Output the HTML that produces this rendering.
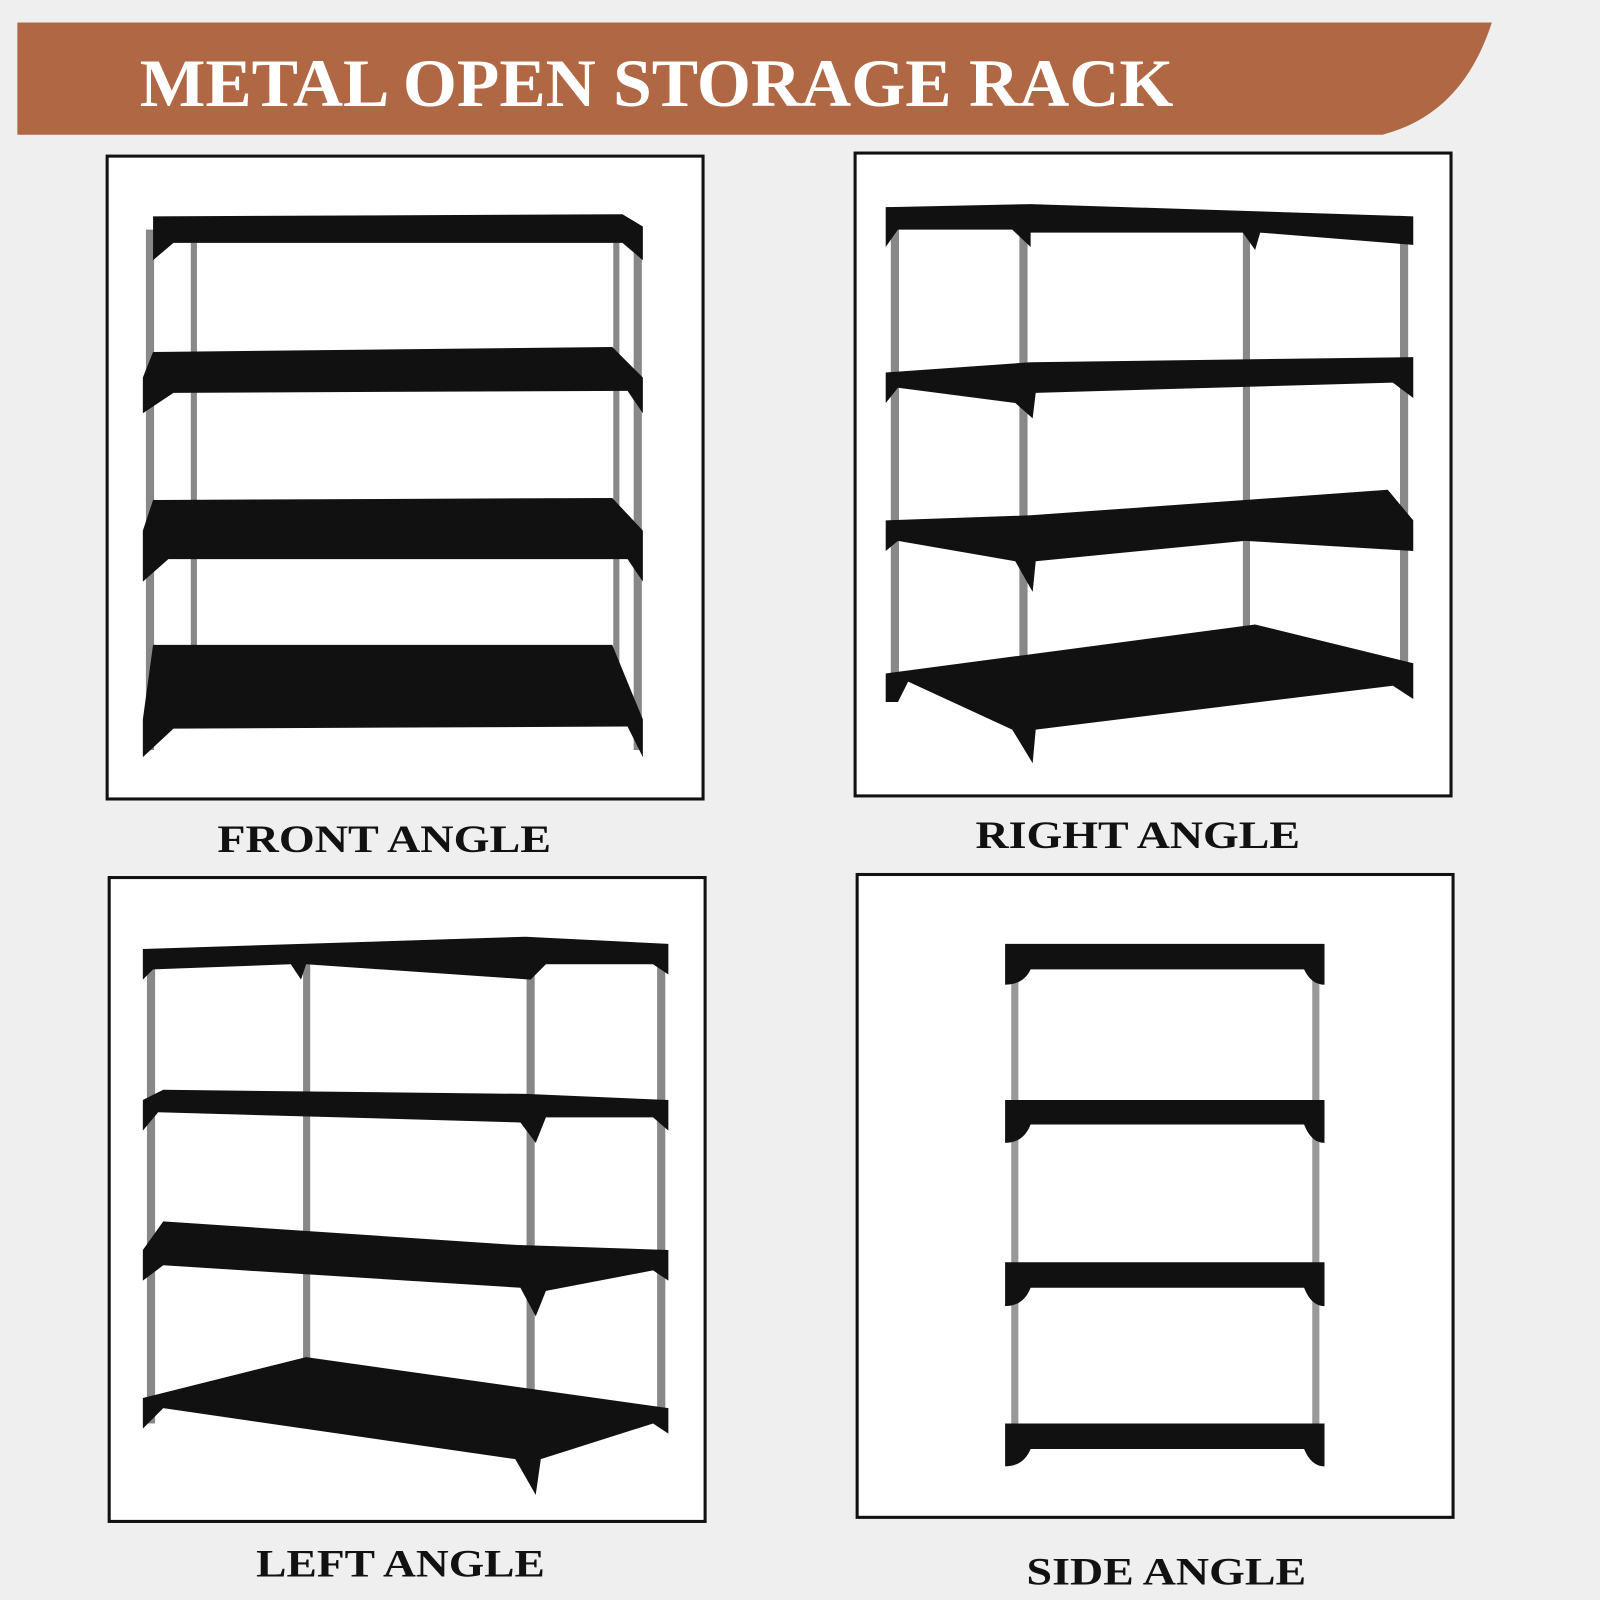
<!DOCTYPE html>
<html><head><meta charset="utf-8"><style>
html,body{margin:0;padding:0;background:#efefef}
svg{display:block}
</style></head><body>
<svg width="1600" height="1600" viewBox="0 0 1568 1568" xmlns="http://www.w3.org/2000/svg">
<rect width="1568" height="1568" fill="#efefef"/>
<path d="M17 22 H1462 C1440 90 1400 120 1355 132 H17 Z" fill="#b06844"/>
<text x="137" y="104" font-family="Liberation Serif, serif" font-weight="bold" font-size="66" fill="#fff" textLength="1013" lengthAdjust="spacingAndGlyphs">METAL OPEN STORAGE RACK</text>

<!-- panels -->
<rect x="105" y="153" width="584" height="630" fill="#fff" stroke="#111" stroke-width="3"/>
<rect x="838" y="150" width="584" height="630" fill="#fff" stroke="#111" stroke-width="3"/>
<rect x="107" y="860" width="584" height="631" fill="#fff" stroke="#111" stroke-width="3"/>
<rect x="840" y="857" width="584" height="630" fill="#fff" stroke="#111" stroke-width="3"/>

<g font-family="Liberation Serif, serif" font-weight="bold" font-size="38" fill="#111" lengthAdjust="spacingAndGlyphs">
<text x="213" y="835" textLength="327" lengthAdjust="spacingAndGlyphs">FRONT ANGLE</text>
<text x="956" y="831" textLength="318" lengthAdjust="spacingAndGlyphs">RIGHT ANGLE</text>
<text x="251" y="1545" textLength="283" lengthAdjust="spacingAndGlyphs">LEFT ANGLE</text>
<text x="1006" y="1553" textLength="274" lengthAdjust="spacingAndGlyphs">SIDE ANGLE</text>
</g>

<!-- FRONT rack -->
<g fill="#888">
<rect x="143" y="225" width="8" height="510"/><rect x="187" y="230" width="6" height="470"/>
<rect x="601" y="225" width="6" height="480"/><rect x="621" y="225" width="8" height="510"/>
</g>
<g fill="#111">
<polygon points="150,212 610,210 630,222 630,255 610,238 170,238 150,255"/>
<polygon points="150,345 600,340 630,370 630,405 615,383 170,385 140,405 140,370"/>
<polygon points="150,490 600,488 630,520 630,570 615,548 165,548 140,570 140,520"/>
<polygon points="150,632 600,632 630,705 630,742 615,712 170,714 140,742 140,705"/>
</g>

<!-- RIGHT rack -->
<g fill="#888">
<rect x="873" y="225" width="8" height="450"/><rect x="999" y="225" width="8" height="490"/>
<rect x="1218" y="225" width="7" height="390"/><rect x="1372" y="225" width="8" height="440"/>
</g>
<g fill="#111">
<polygon points="868,203 1010,200 1385,212 1385,240 1235,228 1230,245 1218,228 1010,228 1010,242 992,225 880,225 868,242"/>
<polygon points="868,365 1010,355 1385,350 1385,390 1365,375 1015,385 1012,410 995,395 880,380 868,395"/>
<polygon points="868,510 1010,505 1360,480 1385,510 1385,540 1220,530 1015,550 1012,580 995,550 880,530 868,540"/>
<polygon points="868,660 1230,612 1385,650 1385,685 1365,672 1015,715 1012,748 992,715 890,668 880,688 868,688"/>
</g>

<!-- LEFT rack -->
<g fill="#888">
<rect x="144" y="945" width="8" height="450"/><rect x="297" y="945" width="7" height="390"/>
<rect x="516" y="945" width="8" height="490"/><rect x="644" y="945" width="8" height="450"/>
</g>
<g fill="#111">
<polygon points="140,930 515,918 655,925 655,955 640,945 535,945 520,960 300,945 295,960 285,945 150,950 140,960"/>
<polygon points="140,1078 160,1068 515,1072 655,1078 655,1108 640,1095 535,1095 525,1120 510,1100 155,1090 140,1108"/>
<polygon points="140,1225 160,1197 505,1220 655,1225 655,1255 640,1245 535,1265 525,1290 510,1262 160,1240 140,1255"/>
<polygon points="140,1370 300,1330 655,1380 655,1405 640,1395 530,1430 525,1465 505,1430 160,1380 140,1400"/>
</g>

<!-- SIDE rack -->
<g fill="#999">
<rect x="991" y="955" width="7" height="450"/><rect x="1286" y="955" width="7" height="450"/>
</g>
<g fill="#111">
<path d="M985 925 H1298 V965 Q1285 965 1278 950 H1010 Q1003 965 985 965 Z"/>
<path d="M985 1078 H1298 V1120 Q1285 1120 1278 1102 H1010 Q1003 1120 985 1120 Z"/>
<path d="M985 1237 H1298 V1280 Q1285 1280 1278 1262 H1010 Q1003 1280 985 1280 Z"/>
<path d="M985 1395 H1298 V1437 Q1285 1437 1278 1420 H1010 Q1003 1437 985 1437 Z"/>
</g>
</svg>
</body></html>
